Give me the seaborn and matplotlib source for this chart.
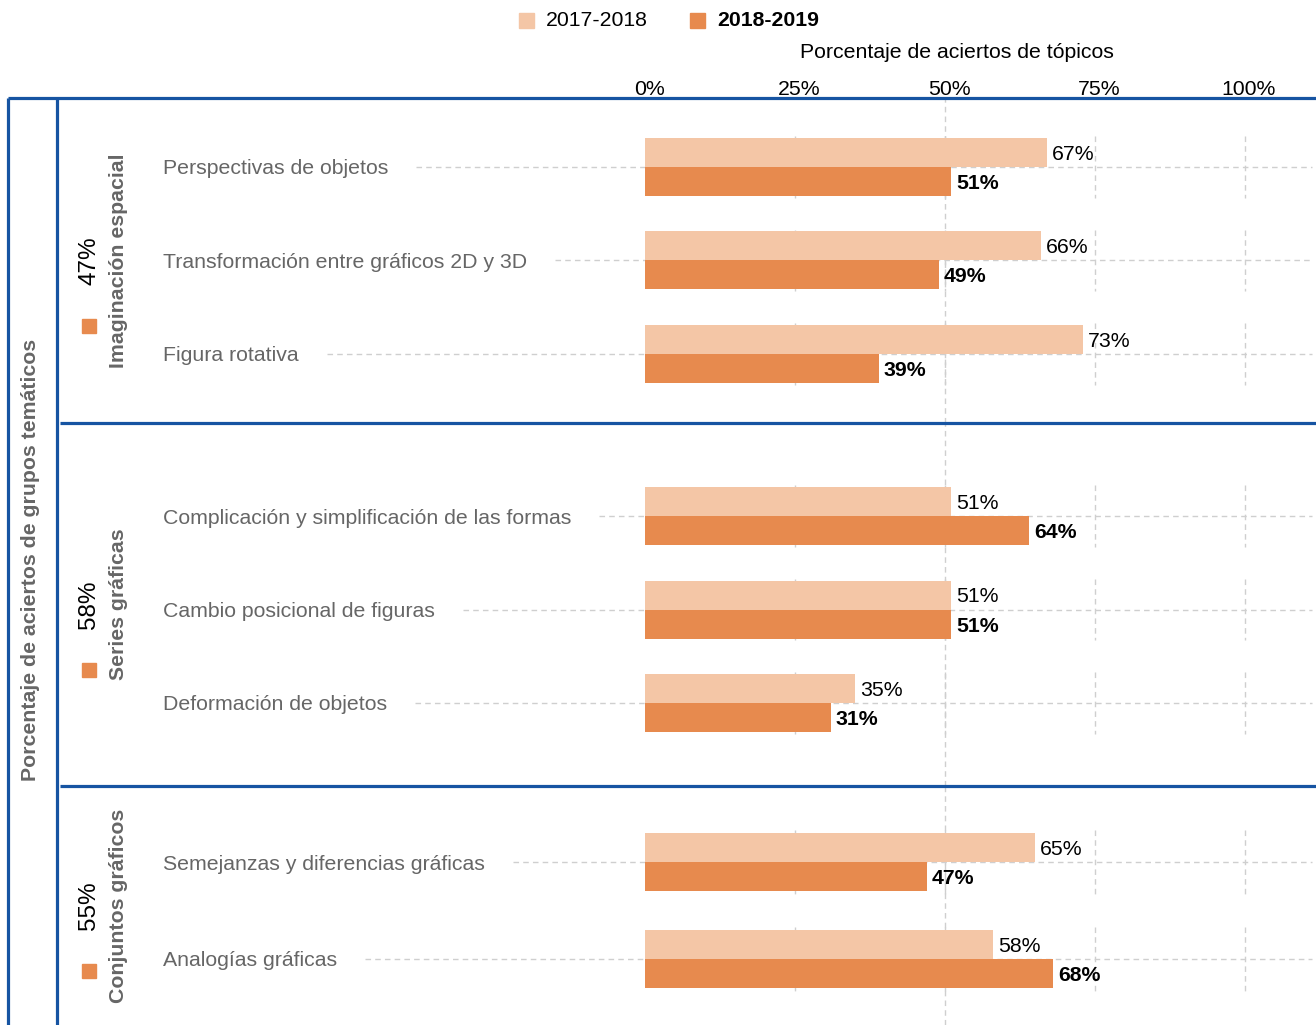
import pandas as pd
import seaborn as sns
import matplotlib.pyplot as plt
import matplotlib.transforms as mtransforms
from matplotlib.patches import Rectangle
from matplotlib.lines import Line2D

# ---- data ----
years = ['2017-2018', '2018-2019']
groups = ['Imaginación espacial', 'Series gráficas', 'Conjuntos gráficos']
group_pct = [47, 58, 55]

topics_espacial = ['Perspectivas de objetos', 'Transformación entre gráficos 2D y 3D', 'Figura rotativa']
topics_series = ['Complicación y simplificación de las formas', 'Cambio posicional de figuras',
                 'Deformación de objetos']
topics_conjuntos = ['Semejanzas y diferencias gráficas', 'Analogías gráficas']

vals_2017_espacial = [67, 66, 73]
vals_2018_espacial = [51, 49, 39]
vals_2017_series = [51, 51, 35]
vals_2018_series = [64, 51, 31]
vals_2017_conjuntos = [65, 58]
vals_2018_conjuntos = [47, 68]

xticks = [0, 25, 50, 75, 100]
xtick_labels = ['0%', '25%', '50%', '75%', '100%']

light = '#F4C6A6'
dark = '#E78A4E'
blue = '#1654A2'
gray_txt = '#666666'
grid_col = '#CFCFCF'

sns.set_theme(style='white')
plt.rcParams['font.family'] = ['Liberation Sans', 'DejaVu Sans']
FS = 15.3

W, H = 1316, 1025
fig = plt.figure(figsize=(W / 100, H / 100), dpi=100)


def fx(x):
    return x / W


def fy(y):
    return 1 - y / H


def long_df(topics, v17, v18):
    rows = []
    for t, a, b in zip(topics, v17, v18):
        rows.append({'topic': t, 'year': years[0], 'value': a})
        rows.append({'topic': t, 'year': years[1], 'value': b})
    return pd.DataFrame(rows)


panels = [
    (long_df(topics_espacial, vals_2017_espacial, vals_2018_espacial), topics_espacial),
    (long_df(topics_series, vals_2017_series, vals_2018_series), topics_series),
    (long_df(topics_conjuntos, vals_2017_conjuntos, vals_2018_conjuntos), topics_conjuntos),
]

# layout in pixels: (top, bottom, first item centre, spacing)
layout = [(98, 423, 167, 93.5), (423, 786, 516, 93.5), (786, 1025, 862, 97)]
x_left_px, x_zero_px, px_per_pct = 57, 645, 6.0
label_px = 163

renderer = fig.canvas.get_renderer()

for k, ((df, topics), (top, bottom, c0, sp)) in enumerate(zip(panels, layout)):
    ax = fig.add_axes([fx(x_left_px), fy(bottom), (W - x_left_px) / W, (bottom - top) / H])
    sns.barplot(data=df, y='topic', x='value', hue='year', order=topics, hue_order=years,
                palette=[light, dark], width=58 / sp, orient='h', ax=ax, legend=False,
                saturation=1, linewidth=0, zorder=3)
    n = len(topics)
    ax.set_xlim((x_left_px - x_zero_px) / px_per_pct, (W - x_zero_px) / px_per_pct)
    ax.set_ylim((n - 1) + (bottom - (c0 + (n - 1) * sp)) / sp, -(c0 - top) / sp)
    for s in ax.spines.values():
        s.set_visible(False)
    ax.set_xlabel('')
    ax.set_ylabel('')
    ax.set_yticks([])
    ax.tick_params(length=0)
    if k == 0:
        ax.xaxis.tick_top()
        ax.set_xticks(xticks)
        ax.set_xticklabels(xtick_labels, fontsize=FS, color='black')
        ax.tick_params(axis='x', pad=0)
        shift = mtransforms.ScaledTranslation(4 / 100, -1.5 / 100, fig.dpi_scale_trans)
        for lab in ax.get_xticklabels():
            lab.set_transform(lab.get_transform() + shift)
    else:
        ax.set_xticks([])

    # grid
    ax.axvline(50, color=grid_col, lw=1, ls=(0, (4, 3)), zorder=1)
    for i in range(n):
        ax.vlines(xticks[1:], i - 0.33, i + 0.33, color=grid_col, lw=1, ls=(0, (4, 3)), zorder=1)

    # category labels + dashed leader lines
    x_lab = (label_px - x_zero_px) / px_per_pct
    for i, t in enumerate(topics):
        txt = ax.text(x_lab, i, t, ha='left', va='center_baseline', fontsize=FS, color=gray_txt)
        bb = txt.get_window_extent(renderer)
        x_end = ax.transData.inverted().transform((bb.x1 + 28, 0))[0]
        ax.hlines(i, x_end, ax.get_xlim()[1] - 0.7, color=grid_col, lw=1, ls=(0, (4, 3)), zorder=1)

    # value labels
    c_light, c_dark = ax.containers[0], ax.containers[1]
    anns = ax.bar_label(c_light, labels=[f'{v:.0f}%' for v in c_light.datavalues], padding=3.5,
                        fontsize=FS, color='black')
    anns += ax.bar_label(c_dark, labels=[f'{v:.0f}%' for v in c_dark.datavalues], padding=3.5,
                         fontsize=FS, color='black', fontweight='bold')
    for a in anns:
        a.set_va('center_baseline')

    # group labels
    yc = (top + bottom) / 2
    fig.text(fx(118), fy(yc), groups[k], rotation=90, ha='center', va='center',
             fontsize=FS, fontweight='bold', color=gray_txt)
    fig.text(fx(89), fy(yc), f'{group_pct[k]}%', rotation=90, ha='center', va='center',
             fontsize=17.5, color='black')
    fig.add_artist(Rectangle((fx(82), fy(yc + 72)), 14 / W, 14 / H, color=dark,
                             transform=fig.transFigure))

# frame lines
lw = 2.3
frame = [((8, 98), (W, 98)), ((8, 98), (8, H)), ((57, 98), (57, H)),
         ((60, 423), (W, 423)), ((60, 786), (W, 786))]
for (x0, y0), (x1, y1) in frame:
    fig.add_artist(Line2D([fx(x0), fx(x1)], [fy(y0), fy(y1)], color=blue, lw=lw,
                          transform=fig.transFigure, solid_capstyle='butt'))

# titles
fig.text(fx(31), fy(560), 'Porcentaje de aciertos de grupos temáticos', rotation=90,
         ha='center', va='center', fontsize=FS, fontweight='bold', color=gray_txt)
fig.text(fx(957), fy(53), 'Porcentaje de aciertos de tópicos', ha='center', va='center',
         fontsize=FS, color='black')

# legend
fig.add_artist(Rectangle((fx(519), fy(28)), 15 / W, 15 / H, color=light, transform=fig.transFigure))
fig.text(fx(546), fy(21), years[0], ha='left', va='center', fontsize=FS, color='black')
fig.add_artist(Rectangle((fx(690), fy(28)), 15 / W, 15 / H, color=dark, transform=fig.transFigure))
fig.text(fx(717), fy(21), years[1], ha='left', va='center', fontsize=FS, color='black',
         fontweight='bold')

fig.savefig('out.png', dpi=100)
